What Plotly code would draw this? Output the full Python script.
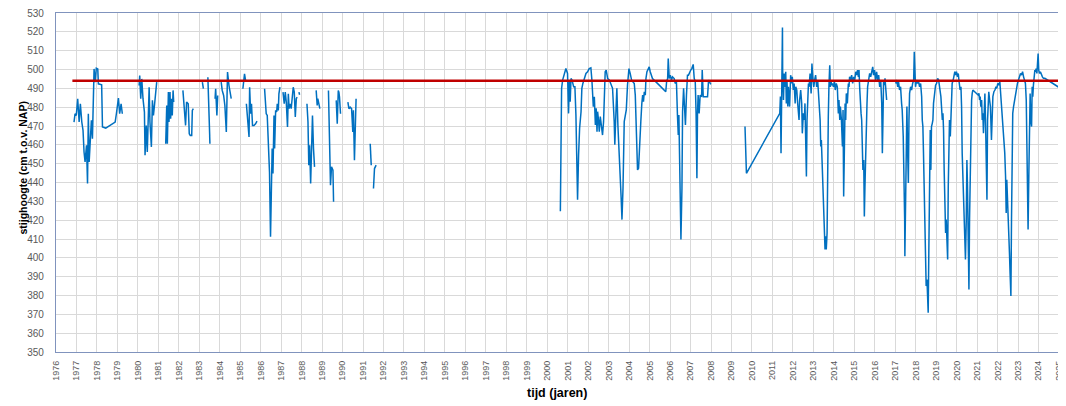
import plotly.graph_objects as go

# ---- data: groundwater head (cm t.o.v. NAP) per measurement series segment ----
seg_1977_yr = [1976.88, 1976.93, 1976.99, 1977.06, 1977.13, 1977.19, 1977.26, 1977.32, 1977.37, 1977.42,
               1977.49, 1977.54, 1977.58, 1977.62, 1977.68, 1977.73, 1977.78, 1977.86, 1977.91, 1977.97,
               1978.04, 1978.07, 1978.23, 1978.27, 1978.43, 1978.89, 1978.95, 1979.05, 1979.11, 1979.18, 1979.24]
seg_1977_lv = [472.1, 476.5, 475.6, 484.5, 472.1, 481.8, 472.1, 467.7, 456.2, 450.9,
               459.8, 439.5, 476.5, 450.9, 463.3, 473.0, 463.3, 500.3, 493.3, 500.7,
               500.3, 492.4, 491.9, 469.5, 468.9, 472.1, 476.5, 484.8, 476.5, 481.8, 476.5]

seg_1980_yr = [1980.06, 1980.09, 1980.14, 1980.19, 1980.25, 1980.32, 1980.35, 1980.41, 1980.46, 1980.51,
               1980.55, 1980.59, 1980.66, 1980.71, 1980.76, 1980.81, 1980.87, 1980.92]
seg_1980_lv = [491.5, 496.8, 484.5, 495.0, 484.5, 477.4, 454.5, 470.3, 456.2, 475.6,
               490.6, 472.1, 458.9, 483.6, 475.6, 480.9, 490.6, 493.3]

seg_1981_yr = [1981.36, 1981.41, 1981.44, 1981.49, 1981.52, 1981.57, 1981.60, 1981.65, 1981.68, 1981.72, 1981.75]
seg_1981_lv = [460.6, 480.9, 460.6, 488.0, 472.1, 488.0, 473.9, 484.5, 475.6, 488.9, 482.7]

seg_1982_yr = [1982.20, 1982.33, 1982.38, 1982.46, 1982.51, 1982.56, 1982.63, 1982.66, 1982.71]
seg_1982_lv = [488.9, 470.3, 482.7, 481.8, 465.9, 465.0, 465.0, 478.3, 479.2]

seg_1983a_yr = [1983.15, 1983.20]
seg_1983a_lv = [493.3, 489.8]

seg_1983b_yr = [1983.42, 1983.47, 1983.52]
seg_1983b_lv = [495.9, 475.6, 460.6]

seg_1983c_yr = [1983.77, 1983.80, 1983.86, 1983.90]
seg_1983c_lv = [484.5, 489.8, 475.6, 486.2]

seg_1984_yr = [1984.07, 1984.12, 1984.19, 1984.25, 1984.32, 1984.38, 1984.45, 1984.51, 1984.56]
seg_1984_lv = [493.3, 488.9, 486.2, 480.9, 466.8, 498.6, 491.5, 486.2, 484.5]

seg_1985a_yr = [1985.13, 1985.17, 1985.21, 1985.26]
seg_1985a_lv = [489.8, 495.0, 497.7, 494.2]

seg_1985b_yr = [1985.30, 1985.38, 1985.43, 1985.46, 1985.51, 1985.55, 1985.60, 1985.67, 1985.75, 1985.82]
seg_1985b_lv = [481.8, 472.1, 464.2, 490.6, 476.5, 481.8, 470.3, 470.3, 471.2, 472.6]

seg_1986_yr = [1986.19, 1986.27, 1986.32, 1986.39, 1986.43, 1986.48, 1986.52, 1986.56, 1986.60, 1986.65,
               1986.68, 1986.73, 1986.78, 1986.81, 1986.86, 1986.89, 1986.94]
seg_1986_lv = [489.8, 476.5, 475.6, 458.0, 445.6, 411.2, 445.6, 458.0, 444.8, 475.6,
               458.0, 478.3, 477.4, 481.8, 478.3, 487.1, 490.6]

seg_1987a_yr = [1987.09, 1987.15, 1987.20, 1987.25, 1987.31, 1987.35, 1987.39, 1987.44, 1987.49, 1987.54,
                1987.59, 1987.64, 1987.69, 1987.74, 1987.78]
seg_1987a_lv = [488.0, 481.8, 488.0, 482.7, 469.5, 487.1, 479.2, 481.8, 479.2, 488.0,
                490.6, 488.0, 474.8, 484.5, 485.3]

seg_1987b_yr = [1987.87, 1987.90]
seg_1987b_lv = [488.0, 486.6]

seg_1988a_yr = [1988.26, 1988.31, 1988.35, 1988.39, 1988.44, 1988.48, 1988.53, 1988.58, 1988.63]
seg_1988a_lv = [481.8, 472.1, 449.2, 459.8, 439.5, 454.5, 475.6, 458.0, 448.3]

seg_1988b_yr = [1988.71, 1988.76, 1988.79, 1988.84, 1988.89]
seg_1988b_lv = [488.9, 480.9, 484.5, 480.9, 479.2]

seg_1989a_yr = [1989.31, 1989.36, 1989.41, 1989.46, 1989.53, 1989.56]
seg_1989a_lv = [488.9, 449.2, 438.6, 448.3, 446.5, 429.8]

seg_1989b_yr = [1989.69, 1989.74, 1989.79, 1989.82, 1989.85, 1989.90]
seg_1989b_lv = [483.6, 471.2, 488.9, 488.0, 485.3, 476.5]

seg_1990_yr = [1990.26, 1990.31, 1990.37, 1990.44, 1990.50, 1990.53, 1990.58, 1990.62, 1990.66]
seg_1990_lv = [482.7, 479.2, 480.0, 479.2, 466.8, 478.3, 451.8, 473.0, 484.5]

seg_1991a_yr = [1991.35, 1991.40]
seg_1991a_lv = [460.6, 449.2]

seg_1991b_yr = [1991.51, 1991.56, 1991.64]
seg_1991b_lv = [436.8, 447.4, 449.2]

seg_2000_yr = [2000.64, 2000.70, 2000.75, 2000.83, 2000.91, 2000.99, 2001.04, 2001.08, 2001.12, 2001.16,
               2001.21, 2001.29, 2001.35, 2001.40, 2001.45, 2001.48, 2001.53, 2001.58, 2001.65, 2001.69,
               2001.74, 2001.81, 2001.89, 2001.97, 2002.05, 2002.13, 2002.18, 2002.25, 2002.30, 2002.35,
               2002.39, 2002.43, 2002.46, 2002.51, 2002.54, 2002.59, 2002.65, 2002.70, 2002.75, 2002.78,
               2002.83, 2002.88, 2002.95, 2003.03, 2003.11, 2003.19, 2003.27, 2003.30, 2003.35, 2003.40,
               2003.45, 2003.50, 2003.57, 2003.61, 2003.65, 2003.70, 2003.76, 2003.81, 2003.86, 2003.92,
               2003.99, 2004.05, 2004.12, 2004.18, 2004.25, 2004.30, 2004.35, 2004.38, 2004.41, 2004.46,
               2004.51, 2004.57, 2004.62, 2004.66, 2004.70, 2004.74, 2004.79, 2004.82, 2004.87, 2004.92,
               2004.98, 2005.03, 2005.08, 2005.14, 2005.47, 2005.79, 2005.83, 2005.88, 2005.91, 2005.96,
               2006.01, 2006.07, 2006.12, 2006.20, 2006.25, 2006.31, 2006.36, 2006.40, 2006.43, 2006.46,
               2006.49, 2006.53, 2006.58, 2006.61, 2006.66, 2006.70, 2006.75, 2006.80, 2006.85, 2006.90,
               2006.95, 2007.01, 2007.06, 2007.13, 2007.18, 2007.23, 2007.27, 2007.31, 2007.34, 2007.37,
               2007.42, 2007.47, 2007.54, 2007.57, 2007.62, 2007.73, 2007.83, 2007.88, 2007.94, 2007.99]
seg_2000_lv = [424.7, 489.9, 494.4, 497.0, 500.5, 497.9, 476.7, 494.4, 482.9, 495.2,
               494.4, 490.8, 490.8, 475.8, 445.8, 430.8, 454.7, 468.8, 477.6, 490.0,
               492.6, 495.2, 497.9, 498.8, 500.5, 500.9, 494.4, 480.2, 485.5, 470.5,
               479.4, 467.0, 477.6, 472.3, 467.0, 475.0, 470.5, 465.2, 472.3, 486.4,
               498.8, 499.7, 495.2, 494.4, 491.7, 490.0, 472.3, 460.0, 475.8, 490.0,
               470.5, 454.7, 437.0, 431.7, 420.3, 437.0, 472.3, 476.7, 478.5, 491.7,
               500.5, 497.9, 494.4, 493.5, 492.6, 486.4, 472.3, 463.5, 446.7, 447.6,
               463.5, 472.3, 482.0, 486.4, 482.9, 488.2, 486.4, 495.2, 498.8, 499.7,
               501.4, 498.8, 497.0, 495.2, 491.7, 488.2, 493.5, 495.2, 505.8, 495.2,
               497.0, 494.4, 496.1, 495.2, 492.6, 493.5, 475.8, 465.2, 475.8, 460.0,
               437.0, 409.7, 437.0, 477.6, 490.0, 481.1, 470.5, 486.4, 497.0, 497.0,
               498.8, 499.7, 500.5, 502.7, 495.2, 493.5, 476.7, 442.3, 476.7, 486.4,
               476.7, 486.4, 485.5, 499.7, 485.5, 485.5, 485.5, 494.4, 492.6, 492.1]

seg_2010_yr = [2009.66, 2009.73, 2011.36, 2011.39, 2011.42, 2011.44, 2011.45, 2011.49, 2011.50, 2011.54,
               2011.57, 2011.62, 2011.65, 2011.68, 2011.71, 2011.75, 2011.78, 2011.81, 2011.84, 2011.89,
               2011.94, 2011.97, 2012.02, 2012.06, 2012.11, 2012.14, 2012.19, 2012.22, 2012.27, 2012.30,
               2012.33, 2012.38, 2012.43, 2012.46, 2012.51, 2012.56, 2012.59, 2012.63, 2012.66, 2012.69,
               2012.72, 2012.76, 2012.79, 2012.84, 2012.89, 2012.93, 2012.97, 2013.02, 2013.06, 2013.11,
               2013.16, 2013.21, 2013.24, 2013.28, 2013.33, 2013.36, 2013.39, 2013.44, 2013.47, 2013.50,
               2013.54, 2013.57, 2013.60, 2013.63, 2013.67, 2013.70, 2013.73, 2013.76, 2013.80, 2013.83,
               2013.86, 2013.89, 2013.93, 2013.98, 2014.03, 2014.07, 2014.12, 2014.17, 2014.22, 2014.25,
               2014.29, 2014.32, 2014.37, 2014.42, 2014.45, 2014.48, 2014.51, 2014.55, 2014.58, 2014.61,
               2014.66, 2014.71, 2014.74, 2014.77, 2014.82, 2014.87, 2014.92, 2014.97, 2015.02, 2015.07,
               2015.11, 2015.16, 2015.20, 2015.23, 2015.26, 2015.29, 2015.33, 2015.36, 2015.39, 2015.42,
               2015.46, 2015.49, 2015.52, 2015.55, 2015.59, 2015.62, 2015.65, 2015.70, 2015.75, 2015.80,
               2015.85, 2015.90, 2015.94, 2015.99, 2016.04, 2016.09, 2016.14, 2016.19, 2016.24, 2016.29,
               2016.34, 2016.37, 2016.40, 2016.43, 2016.47, 2016.50, 2016.53, 2016.58]
seg_2010_lv = [469.7, 444.9, 476.7, 485.6, 455.6, 490.9, 513.8, 522.3, 499.7, 483.8,
               497.9, 490.8, 498.8, 482.0, 494.4, 480.3, 490.8, 485.6, 480.3, 497.0,
               492.6, 496.1, 489.1, 492.6, 482.0, 490.8, 489.1, 483.8, 476.7, 473.2,
               483.8, 489.1, 482.0, 466.1, 476.7, 473.2, 482.0, 457.3, 443.2, 473.2,
               482.0, 492.6, 490.8, 497.9, 487.3, 503.2, 496.1, 490.8, 494.4, 497.0,
               490.8, 494.4, 489.1, 482.0, 473.2, 459.1, 462.6, 446.7, 437.9, 429.1,
               420.3, 404.4, 411.4, 404.4, 413.2, 466.1, 475.0, 490.8, 502.3, 490.8,
               494.4, 491.7, 492.6, 490.8, 493.5, 489.1, 492.6, 490.8, 476.7, 483.8,
               473.2, 480.3, 473.2, 459.1, 478.5, 432.6, 469.7, 482.0, 473.2, 487.3,
               482.0, 492.6, 490.8, 496.1, 494.4, 497.0, 492.6, 496.1, 494.4, 498.8,
               497.0, 499.7, 496.1, 499.7, 490.8, 482.0, 476.7, 473.2, 459.1, 446.7,
               452.0, 422.0, 437.9, 455.6, 473.2, 482.0, 490.8, 494.4, 497.9, 496.1,
               499.7, 501.4, 497.0, 499.7, 494.4, 498.8, 494.4, 497.0, 490.8, 494.4,
               482.0, 455.6, 473.2, 494.4, 491.7, 495.3, 490.8, 483.8]

seg_2017_yr = [2017.02, 2017.07, 2017.12, 2017.16, 2017.21, 2017.26, 2017.31, 2017.34, 2017.39, 2017.43,
               2017.46, 2017.47, 2017.51, 2017.54, 2017.57, 2017.60, 2017.64, 2017.67, 2017.70, 2017.75,
               2017.80, 2017.85, 2017.90, 2017.93, 2017.96, 2017.99, 2018.04, 2018.09, 2018.14, 2018.19,
               2018.24, 2018.29, 2018.32, 2018.35, 2018.38, 2018.42, 2018.45, 2018.48, 2018.51, 2018.55,
               2018.58, 2018.61, 2018.64, 2018.68, 2018.71, 2018.74, 2018.77, 2018.81, 2018.84, 2018.87,
               2018.92, 2018.97, 2019.02, 2019.07, 2019.12, 2019.17, 2019.20, 2019.23, 2019.26, 2019.30,
               2019.33, 2019.36, 2019.39, 2019.43, 2019.46, 2019.49, 2019.52, 2019.56, 2019.59, 2019.62,
               2019.65, 2019.69, 2019.72, 2019.75, 2019.78, 2019.83, 2019.88, 2019.91, 2019.95, 2019.99,
               2020.04, 2020.08, 2020.11, 2020.14, 2020.17, 2020.21, 2020.24, 2020.27, 2020.30, 2020.34,
               2020.37, 2020.40, 2020.43, 2020.47, 2020.50, 2020.53, 2020.56, 2020.60, 2020.63, 2020.66,
               2020.69, 2020.73, 2020.76, 2020.79, 2021.05, 2021.09, 2021.12, 2021.15, 2021.18, 2021.22,
               2021.25, 2021.28, 2021.31, 2021.35, 2021.38, 2021.41, 2021.44, 2021.48, 2021.51, 2021.54,
               2021.57, 2021.61, 2021.65, 2021.70, 2021.74, 2021.77, 2021.82, 2021.87, 2021.92, 2021.96,
               2022.01, 2022.06, 2022.11, 2022.16, 2022.21, 2022.26, 2022.31, 2022.35, 2022.39, 2022.42,
               2022.45, 2022.48, 2022.52, 2022.55, 2022.58, 2022.61, 2022.65, 2022.68, 2022.71, 2022.74,
               2022.78, 2022.83, 2022.87, 2022.92, 2022.97, 2023.02, 2023.07, 2023.12, 2023.17, 2023.22,
               2023.27, 2023.31, 2023.36, 2023.40, 2023.43, 2023.46, 2023.49, 2023.53, 2023.56, 2023.59,
               2023.62, 2023.66, 2023.69, 2023.72, 2023.75, 2023.79, 2023.82, 2023.85, 2023.88, 2023.92,
               2023.95, 2023.98, 2024.01, 2024.05, 2024.09, 2024.14, 2024.19, 2024.24, 2024.31, 2025.00]
seg_2017_lv = [492.6, 494.4, 490.8, 493.5, 489.1, 490.8, 482.0, 478.5, 464.4, 446.7,
               420.3, 400.9, 437.9, 464.4, 480.3, 459.1, 439.7, 473.2, 487.3, 490.8,
               489.1, 492.6, 494.4, 509.4, 494.4, 490.8, 494.4, 492.6, 493.5, 490.8,
               492.6, 485.6, 473.2, 469.7, 455.6, 437.9, 420.3, 402.6, 385.0, 388.5,
               372.6, 370.8, 402.6, 437.9, 467.9, 446.7, 469.7, 471.4, 473.2, 482.0,
               487.3, 491.7, 492.6, 495.3, 494.4, 490.8, 488.2, 485.6, 480.3, 473.2,
               476.7, 467.9, 446.7, 432.6, 413.2, 420.3, 406.1, 399.1, 437.9, 464.4,
               473.2, 464.4, 473.2, 490.8, 492.6, 494.4, 497.9, 498.8, 497.0, 498.8,
               496.1, 497.9, 494.4, 490.8, 489.1, 490.8, 480.3, 455.6, 443.2, 429.1,
               416.7, 406.1, 399.1, 420.3, 452.0, 437.9, 402.6, 383.2, 420.3, 443.2,
               473.2, 483.8, 487.3, 489.1, 486.4, 487.3, 483.8, 485.6, 480.3, 483.8,
               473.2, 476.7, 466.1, 482.0, 487.3, 473.2, 450.3, 430.8, 473.2, 480.3,
               488.2, 483.8, 480.3, 462.6, 482.0, 485.6, 488.2, 489.1, 490.8, 490.0,
               492.6, 491.7, 493.5, 485.6, 482.0, 471.4, 464.4, 455.6, 443.2, 423.8,
               441.4, 429.1, 420.3, 411.4, 402.6, 392.0, 379.7, 420.3, 455.6, 476.7,
               480.3, 483.8, 485.6, 490.8, 492.6, 494.4, 496.1, 497.9, 497.0, 498.8,
               496.1, 494.4, 492.6, 483.8, 455.6, 420.3, 415.0, 446.7, 476.7, 487.3,
               473.2, 469.7, 490.8, 485.6, 491.7, 497.9, 499.7, 498.8, 500.5, 497.9,
               501.4, 508.5, 499.7, 497.9, 498.8, 497.0, 496.1, 495.3, 495.3, 490.5]

ref_year = [1976.8, 2025.0]
ref_level = [494.0, 494.0]

year_ticks = list(range(1976, 2026))

segments = [
    (seg_1977_yr, seg_1977_lv), (seg_1980_yr, seg_1980_lv), (seg_1981_yr, seg_1981_lv),
    (seg_1982_yr, seg_1982_lv), (seg_1983a_yr, seg_1983a_lv), (seg_1983b_yr, seg_1983b_lv),
    (seg_1983c_yr, seg_1983c_lv), (seg_1984_yr, seg_1984_lv), (seg_1985a_yr, seg_1985a_lv),
    (seg_1985b_yr, seg_1985b_lv), (seg_1986_yr, seg_1986_lv), (seg_1987a_yr, seg_1987a_lv),
    (seg_1987b_yr, seg_1987b_lv), (seg_1988a_yr, seg_1988a_lv), (seg_1988b_yr, seg_1988b_lv),
    (seg_1989a_yr, seg_1989a_lv), (seg_1989b_yr, seg_1989b_lv), (seg_1990_yr, seg_1990_lv),
    (seg_1991a_yr, seg_1991a_lv), (seg_1991b_yr, seg_1991b_lv), (seg_2000_yr, seg_2000_lv),
    (seg_2010_yr, seg_2010_lv), (seg_2017_yr, seg_2017_lv),
]

xs, ys = [], []
for yr, lv in segments:
    xs += yr + [None]
    ys += lv + [None]

fig = go.Figure()
fig.add_trace(go.Scatter(x=xs, y=ys, mode="lines", connectgaps=False,
                         line=dict(color="#0070C0", width=1.5), hoverinfo="skip"))
fig.add_trace(go.Scatter(x=ref_year, y=ref_level, mode="lines",
                         line=dict(color="#C00000", width=2.5), hoverinfo="skip"))

axis_common = dict(showgrid=True, gridcolor="#D9D9D9", gridwidth=1, zeroline=False,
                   showline=True, linecolor="#8093BD", linewidth=1.3, mirror=True,
                   ticks="", automargin=False, ticklabeloverflow="allow")

fig.update_xaxes(range=[1976, 2025], tickmode="array", tickvals=year_ticks,
                 ticktext=[str(y) for y in year_ticks], tickangle=-90,
                 tickfont=dict(family="Liberation Sans, Arial, sans-serif", size=9, color="#595959"),
                 ticklabelstandoff=4, **axis_common)
fig.update_yaxes(range=[350, 530], dtick=10, tick0=350,
                 tickfont=dict(family="Liberation Sans, Arial, sans-serif", size=10, color="#595959"),
                 ticklabelstandoff=9, **axis_common)

# the page body has an 8px default margin, so the figure is sized to fill the rest
fig.update_layout(
    width=1058, height=398,
    margin=dict(l=48, r=7, t=5, b=54),
    plot_bgcolor="white", paper_bgcolor="white",
    showlegend=False,
    annotations=[
        dict(text="<b>tijd (jaren)</b>", xref="paper", yref="paper", x=0.4995, y=-0.12,
             xanchor="center", yanchor="middle", showarrow=False,
             font=dict(family="Liberation Sans, Arial, sans-serif", size=12.5, color="#000000")),
        dict(text="<b>stijghoogte (cm t.o.v. NAP)</b>", xref="paper", yref="paper",
             x=-0.033, y=0.544, xanchor="center", yanchor="middle", textangle=-90,
             showarrow=False,
             font=dict(family="Liberation Sans, Arial, sans-serif", size=10.5, color="#000000")),
    ],
)

fig.write_html("out.html")
